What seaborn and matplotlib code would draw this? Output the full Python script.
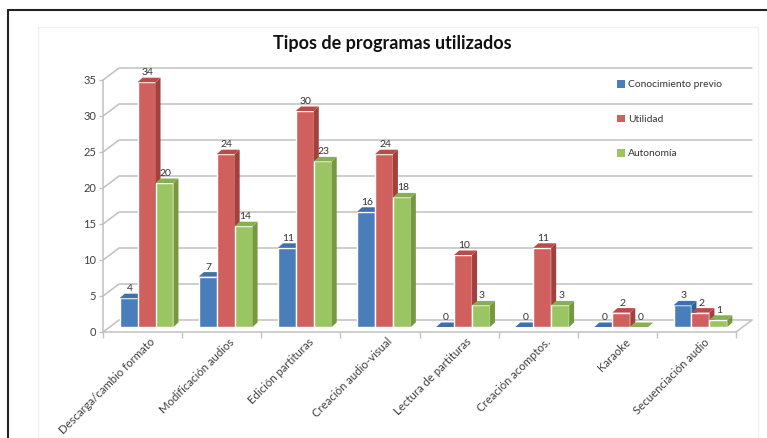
import numpy as np
import pandas as pd
import matplotlib
matplotlib.use("Agg")
import matplotlib.pyplot as plt
import matplotlib.transforms as mtransforms
from matplotlib.patches import Polygon, Patch, Rectangle
from matplotlib.lines import Line2D
import seaborn as sns

categories = ["Descarga/cambio formato", "Modificación audios", "Edición partituras",
              "Creación audio-visual", "Lectura de partituras", "Creación acomptos.",
              "Karaoke", "Secuenciación audio"]
series = ["Conocimiento previo", "Utilidad", "Autonomía"]
conocimiento = [4, 7, 11, 16, 0, 0, 0, 3]
utilidad = [34, 24, 30, 24, 10, 11, 2, 2]
autonomia = [20, 14, 23, 18, 3, 3, 0, 1]
yticks = [0, 5, 10, 15, 20, 25, 30, 35]

front = ["#4a7ebb", "#d0605d", "#9bc562"]
side = ["#34609a", "#a33f3c", "#76993f"]
top = ["#3f6fae", "#b84c49", "#88b050"]

df = pd.DataFrame({"programa": categories * 3,
                   "serie": np.repeat(series, len(categories)),
                   "valor": conocimiento + utilidad + autonomia})

sns.set_style("white")
plt.rcParams["font.family"] = ["Lato", "DejaVu Sans"]

W, H = 767, 438
fig = plt.figure(figsize=(W / 100, H / 100), dpi=100)

# axes box = front edge of the floor / left wall
ax_l, ax_r, ax_b = 103, 736, 332
ppu = 7.2  # pixels per y unit
ax = fig.add_axes([ax_l / W, (H - ax_b) / H, (ax_r - ax_l) / W, 35 * ppu / H])

sns.barplot(data=df, x="programa", y="valor", hue="serie", palette=front,
            width=0.68, saturation=1, legend=False, ax=ax, order=categories)

ax.set_xlim(-0.5, 7.5)
ax.set_ylim(0, 35)
pxx = (ax_r - ax_l) / 8.0

def dx(px):
    return px / pxx

def dy(px):
    return px / ppu

grid_c = "#c0c0c0"
# back wall gridlines + diagonals on the left wall
gx, gy = dx(16), dy(12)
for t in yticks:
    ax.plot([-0.5, -0.5 + gx, 7.5 + gx], [t, t + gy, t + gy], color=grid_c,
            lw=1.1, zorder=1, clip_on=False)
ax.plot([7.5, 7.5 + gx], [0, gy], color=grid_c, lw=1.1, zorder=1, clip_on=False)

# 3D-ish bars
shift = ax.transData + mtransforms.ScaledTranslation(4 / 100, 5 / 100, fig.dpi_scale_trans)
ddx, ddy = dx(5), dy(4.5)
for i, cont in enumerate(ax.containers):
    for p, v in zip(cont.patches, cont.datavalues):
        x0, w, h = p.get_x(), p.get_width(), p.get_height()
        z = 3 + 0.01 * (x0 + 1)
        p.set_transform(shift)
        p.set_zorder(z)
        p.set_clip_on(False)
        r = x0 + w
        ax.add_patch(Polygon([(r, 0), (r + ddx, ddy), (r + ddx, h + ddy), (r, h)],
                             closed=True, facecolor=side[i], edgecolor="none",
                             transform=shift, zorder=z, clip_on=False))
        ax.add_patch(Polygon([(x0, h), (r, h), (r + ddx, h + ddy), (x0 + ddx, h + ddy)],
                             closed=True, facecolor=top[i], edgecolor="none",
                             transform=shift, zorder=z, clip_on=False))
        ax.text(x0 + w / 2 + dx(1), h + ddy + dy(0.5), f"{v:g}", transform=shift,
                ha="center", va="bottom", fontsize=7.5, color="#333333", zorder=10)

for s in ["top", "right"]:
    ax.spines[s].set_visible(False)
for s in ["left", "bottom"]:
    ax.spines[s].set_color(grid_c)
    ax.spines[s].set_linewidth(1.1)

ax.set_yticks(yticks)
ax.set_xticks(np.arange(-0.5, 8, 1), minor=True)
ax.tick_params(axis="y", length=3, width=1, color=grid_c, pad=2, labelsize=8,
               labelcolor="#404040", left=True)
ax.tick_params(axis="x", which="major", length=0, pad=3, labelsize=8.2, labelcolor="#404040")
ax.tick_params(axis="x", which="minor", length=4, width=1, color=grid_c, bottom=True)
ax.set_xlabel("")
ax.set_ylabel("")
ax.set_xticks(range(len(categories)))
ax.set_xticklabels(categories, rotation=45, ha="right", rotation_mode="anchor")
lab_off = mtransforms.ScaledTranslation(7 / 100, 0, fig.dpi_scale_trans)
for lab in ax.get_xticklabels():
    lab.set_transform(lab.get_transform() + lab_off)

fig.text(392 / W, 1 - 43 / H, "Tipos de programas utilizados", ha="center", va="center",
         fontsize=13, fontweight="bold", color="#111111")

handles = [Patch(facecolor=c, edgecolor="none") for c in front]
leg = fig.legend(handles, series, loc="upper left", bbox_to_anchor=(617 / W, 1 - 80 / H),
                 frameon=False, fontsize=7.4, handlelength=0.75, handleheight=0.75,
                 handletextpad=0.3, labelspacing=2.45, borderaxespad=0, borderpad=0)
for t in leg.get_texts():
    t.set_color("#333333")

# outer frame and faint chart area
fig.add_artist(Rectangle((38 / W, 0), 720 / W, 1 - 27 / H, transform=fig.transFigure,
                         facecolor="none", edgecolor="#f0f0f0", lw=1, zorder=0))
fig.add_artist(Line2D([8 / W, 8 / W], [0, 1 - 10 / H], transform=fig.transFigure,
                      color="#222222", lw=1.5))
fig.add_artist(Line2D([8 / W, 1], [1 - 10 / H, 1 - 10 / H], transform=fig.transFigure,
                      color="#222222", lw=1.5))

fig.savefig("out.png", dpi=100)
